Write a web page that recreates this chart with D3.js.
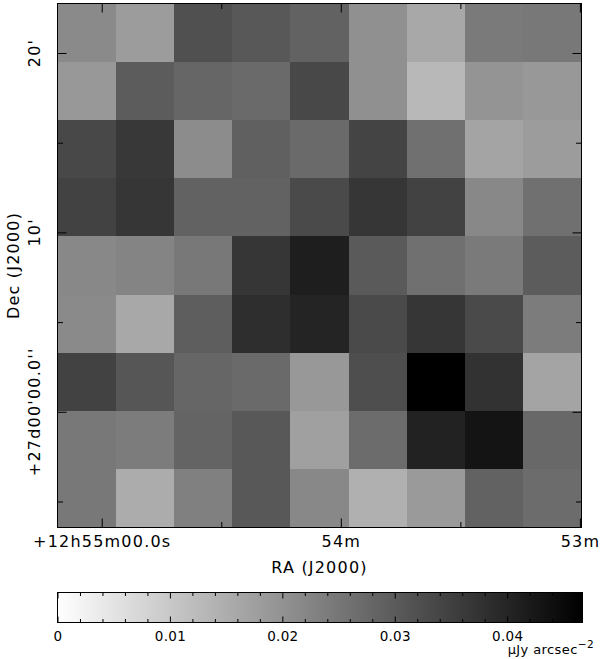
<!DOCTYPE html>
<html>
<head>
<meta charset="utf-8">
<script src="https://cdn.jsdelivr.net/npm/d3@7/dist/d3.min.js"></script>
<style>
  body { margin: 0; background: #fff; }
  svg text { font-family: "DejaVu Sans", sans-serif; fill: #000; }
  .axis path.domain { display: none; }
  .axis line { stroke: #000; stroke-width: 1; }
  .big text { font-size: 16px; letter-spacing: 1.2px; }
  .small text { font-size: 13.5px; letter-spacing: 0.3px; }
</style>
</head>
<body>
<svg id="map" width="600" height="659"></svg>
<script>
// surface brightness per pixel (uJy arcsec^-2), top row = highest Dec,
// left to right = RA decreasing
var row0 = [0.0214, 0.0181, 0.0321, 0.0306, 0.0288, 0.0203, 0.0159, 0.0244, 0.0247];
var row1 = [0.0189, 0.0299, 0.0280, 0.0273, 0.0335, 0.0203, 0.0130, 0.0196, 0.0189];
var row2 = [0.0335, 0.0364, 0.0211, 0.0291, 0.0273, 0.0342, 0.0262, 0.0167, 0.0181];
var row3 = [0.0346, 0.0368, 0.0288, 0.0288, 0.0331, 0.0368, 0.0346, 0.0218, 0.0262];
var row4 = [0.0218, 0.0225, 0.0247, 0.0368, 0.0412, 0.0302, 0.0262, 0.0244, 0.0299];
var row5 = [0.0214, 0.0159, 0.0295, 0.0383, 0.0401, 0.0331, 0.0368, 0.0331, 0.0240];
var row6 = [0.0346, 0.0309, 0.0280, 0.0273, 0.0189, 0.0324, 0.0467, 0.0375, 0.0167];
var row7 = [0.0247, 0.0240, 0.0284, 0.0306, 0.0174, 0.0269, 0.0405, 0.0430, 0.0277];
var row8 = [0.0247, 0.0152, 0.0233, 0.0306, 0.0218, 0.0145, 0.0185, 0.0288, 0.0269];
var fluxRows = [row0, row1, row2, row3, row4, row5, row6, row7, row8];

// RA in seconds of time after 12h, Dec in arcmin after +27d
var raExtent = [3311.1, 3179.6];
var decExtent = [22.76, -6.45];
var raMajor = [3300, 3240, 3180];
var raLabels = ["+12h55m00.0s", "54m", "53m"];
var raMinor = [3270, 3210];
var decMajor = [0, 10, 20];
var decLabels = ["+27d00'00.0''", "10'", "20'"];
var decMinor = [-5, 5, 15];

var cbarMax = 0.0467;
var cbarMajor = [0, 0.01, 0.02, 0.03, 0.04];
var cbarLabels = ["0", "0.01", "0.02", "0.03", "0.04"];
var cbarMinor = [0.002, 0.004, 0.006, 0.008, 0.012, 0.014, 0.016, 0.018,
                 0.022, 0.024, 0.026, 0.028, 0.032, 0.034, 0.036, 0.038,
                 0.042, 0.044, 0.046];

var plot = {"left": 57.5, "right": 581.5, "top": 3.5, "bottom": 527.5};
var cbar = {"left": 57.5, "right": 582.5, "top": 592.5, "bottom": 622.5};

var svg = d3.select("#map");

var xScale = d3.scaleLinear().domain(raExtent).range([plot.left, plot.right]);
var yScale = d3.scaleLinear().domain(decExtent).range([plot.top, plot.bottom]);
var colBand = d3.scaleBand().domain(d3.range(row0.length)).range([plot.left, plot.right]);
var rowBand = d3.scaleBand().domain(d3.range(fluxRows.length)).range([plot.top, plot.bottom]);
var color = d3.scaleLinear().domain([0, cbarMax]).range(["#ffffff", "#000000"]).clamp(true);

// image pixels
svg.append("g")
   .selectAll("g")
   .data(fluxRows)
   .enter().append("g")
   .attr("transform", function(d, i) { return "translate(0," + rowBand(i) + ")"; })
   .selectAll("rect")
   .data(function(d) { return d; })
   .enter().append("rect")
   .attr("x", function(d, i) { return colBand(i); })
   .attr("width", colBand.bandwidth() + 0.5)
   .attr("height", rowBand.bandwidth() + 0.5)
   .attr("shape-rendering", "crispEdges")
   .attr("fill", function(d) { return color(d); });

svg.append("rect")
   .attr("x", plot.left).attr("y", plot.top)
   .attr("width", plot.right - plot.left).attr("height", plot.bottom - plot.top)
   .attr("fill", "none").attr("stroke", "#000");

// inward ticks on all four sides
function AddTicks(axis, tx, ty, values, size, cls)
{
  svg.append("g")
     .attr("class", "axis " + (cls || ""))
     .attr("transform", "translate(" + tx + "," + ty + ")")
     .call(axis.tickValues(values).tickSize(-size).tickSizeOuter(0));
}

AddTicks(d3.axisBottom(xScale).tickPadding(8).tickFormat(function(d, i) { return raLabels[i]; }),
         0, plot.bottom, raMajor, 9, "big");
AddTicks(d3.axisBottom(xScale).tickFormat(""), 0, plot.bottom, raMinor, 5.5);
AddTicks(d3.axisTop(xScale).tickFormat(""), 0, plot.top, raMajor, 9);
AddTicks(d3.axisTop(xScale).tickFormat(""), 0, plot.top, raMinor, 5.5);
AddTicks(d3.axisLeft(yScale).tickFormat(""), plot.left, 0, decMajor, 9);
AddTicks(d3.axisLeft(yScale).tickFormat(""), plot.left, 0, decMinor, 5.5);
AddTicks(d3.axisRight(yScale).tickFormat(""), plot.right, 0, decMajor, 9);
AddTicks(d3.axisRight(yScale).tickFormat(""), plot.right, 0, decMinor, 5.5);

// rotated Dec labels
svg.append("g").attr("class", "big")
   .selectAll("text")
   .data(decMajor)
   .enter().append("text")
   .attr("transform", function(d) { return "translate(40," + yScale(d) + ") rotate(-90)"; })
   .attr("text-anchor", "middle")
   .text(function(d, i) { return decLabels[i]; });

svg.append("g").attr("class", "big")
   .append("text")
   .attr("x", (plot.left + plot.right) / 2).attr("y", 573)
   .attr("text-anchor", "middle")
   .text("RA (J2000)");

svg.append("g").attr("class", "big")
   .append("text")
   .attr("transform", "translate(19," + ((plot.top + plot.bottom) / 2) + ") rotate(-90)")
   .attr("text-anchor", "middle")
   .text("Dec (J2000)");

// colour bar
var cbScale = d3.scaleLinear().domain([0, cbarMax]).range([cbar.left, cbar.right]);

var grad = svg.append("defs").append("linearGradient")
              .attr("id", "cbar-grad")
              .attr("x1", "0%").attr("x2", "100%").attr("y1", "0%").attr("y2", "0%");
grad.selectAll("stop")
    .data(cbarMajor.concat([cbarMax]))
    .enter().append("stop")
    .attr("offset", function(d) { return (d / cbarMax * 100) + "%"; })
    .attr("stop-color", function(d) { return color(d); });

svg.append("rect")
   .attr("x", cbar.left).attr("y", cbar.top)
   .attr("width", cbar.right - cbar.left).attr("height", cbar.bottom - cbar.top)
   .attr("fill", "url(#cbar-grad)")
   .attr("stroke", "#000");

AddTicks(d3.axisBottom(cbScale).tickPadding(9).tickFormat(function(d, i) { return cbarLabels[i]; }),
         0, cbar.bottom, cbarMajor, 6, "small");
AddTicks(d3.axisBottom(cbScale).tickFormat(""), 0, cbar.bottom, cbarMinor, 3.5);
AddTicks(d3.axisTop(cbScale).tickFormat(""), 0, cbar.top, cbarMajor, 6);
AddTicks(d3.axisTop(cbScale).tickFormat(""), 0, cbar.top, cbarMinor, 3.5);

var unit = svg.append("text")
              .attr("x", 594).attr("y", 654)
              .attr("text-anchor", "end")
              .style("font-size", "13px")
              .style("letter-spacing", "0.4px");
unit.append("tspan").text("\u03bcJy arcsec");
unit.append("tspan").attr("dy", -6).style("font-size", "10.5px").text("\u22122");
</script>
</body>
</html>
